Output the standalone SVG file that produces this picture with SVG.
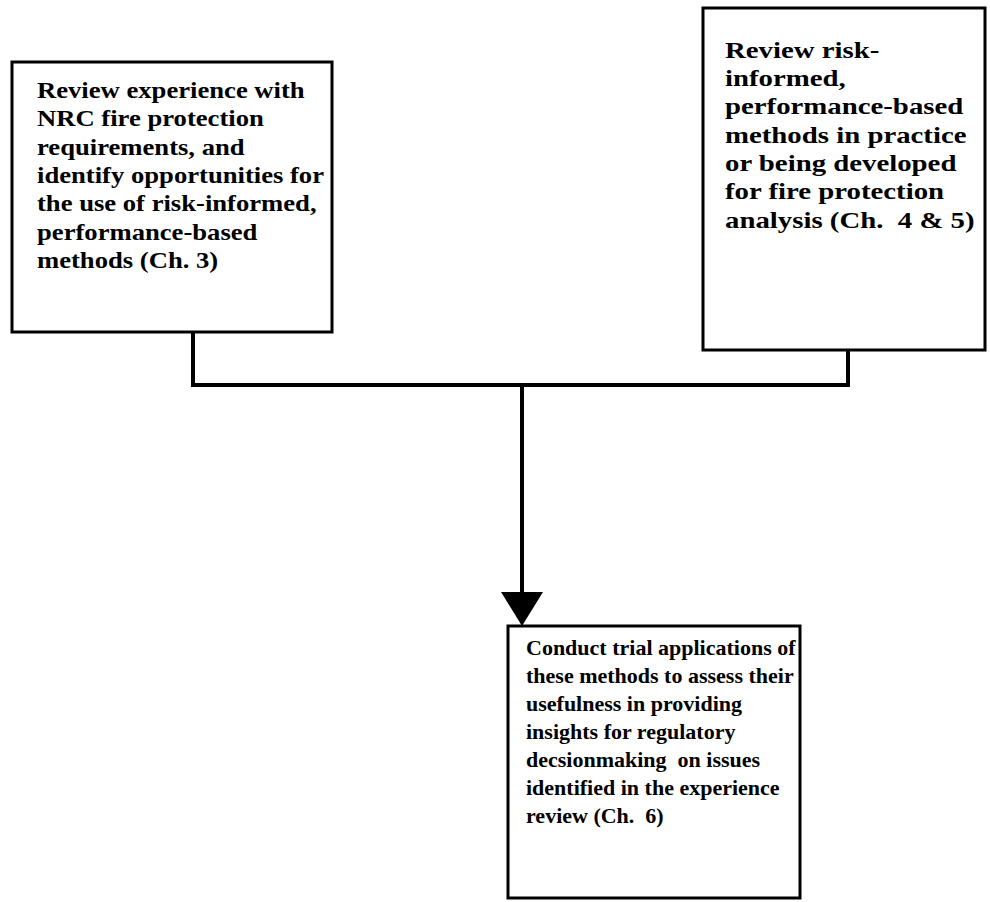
<svg xmlns="http://www.w3.org/2000/svg" width="990" height="902" viewBox="0 0 990 902">
<style>
.box{fill:#fff;stroke:#000;stroke-width:3}
.t{font-family:"Liberation Serif","Times New Roman",serif;font-weight:bold;font-size:22px;fill:#000}
.big{font-size:24px}
.c{fill:none;stroke:#000;stroke-width:4}
</style>
<rect width="990" height="902" fill="#fff"/>
<g id="connectors">
<polyline class="c" points="193,332 193,385 848,385 848,350"/>
<line class="c" x1="522" y1="385" x2="522" y2="596"/>
<polygon points="501,592 543,592 522,626" fill="#000"/>
</g>
<g id="node1">
<rect class="box" x="12" y="62" width="320" height="270"/>
<g transform="translate(37,0) scale(1.11,1)">
<text class="t big" x="0" y="98">Review experience with</text>
<text class="t big" x="0" y="126">NRC fire protection</text>
<text class="t big" x="0" y="155">requirements, and</text>
<text class="t big" x="0" y="183">identify opportunities for</text>
<text class="t big" x="0" y="211">the use of risk-informed,</text>
<text class="t big" x="0" y="240">performance-based</text>
<text class="t big" x="0" y="268">methods (Ch. 3)</text>
</g>
</g>
<g id="node2">
<rect class="box" x="703" y="8" width="282" height="342"/>
<g transform="translate(725,0) scale(1.2,1)">
<text class="t big" x="0" y="58">Review risk-</text>
<text class="t big" x="0" y="86">informed,</text>
<text class="t big" x="0" y="114">performance-based</text>
<text class="t big" x="0" y="143">methods in practice</text>
<text class="t big" x="0" y="171">or being developed</text>
<text class="t big" x="0" y="199">for fire protection</text>
<text class="t big" x="0" y="228" xml:space="preserve">analysis (Ch.  4 &amp; 5)</text>
</g>
</g>
<g id="node3">
<rect class="box" x="508" y="626" width="292" height="272"/>
<text class="t" x="526" y="655">Conduct trial applications of</text>
<text class="t" x="526" y="683">these methods to assess their</text>
<text class="t" x="526" y="711">usefulness in providing</text>
<text class="t" x="526" y="739">insights for regulatory</text>
<text class="t" x="526" y="767" xml:space="preserve">decsionmaking  on issues</text>
<text class="t" x="526" y="795">identified in the experience</text>
<text class="t" x="526" y="823" xml:space="preserve">review (Ch.  6)</text>
</g>
</svg>
